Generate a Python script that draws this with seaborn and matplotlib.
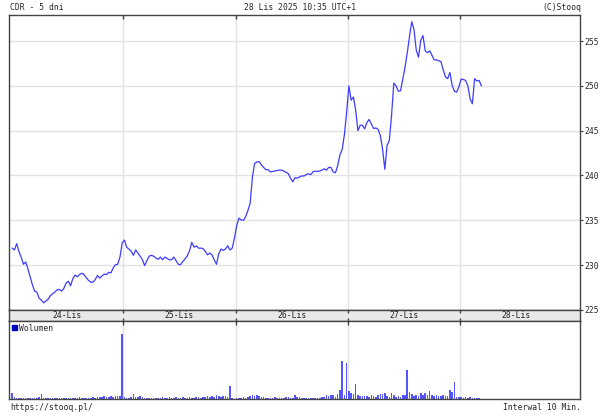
import numpy as np
import pandas as pd
import seaborn as sns
import matplotlib.pyplot as plt
from matplotlib.patches import Patch

sns.set_style("white")
plt.rcParams["font.family"] = ["DejaVu Sans Mono"]

days = ["24-Lis", "25-Lis", "26-Lis", "27-Lis", "28-Lis"]
slots_per_day = 50  # 10-minute bars per session

# price (PLN), one value per 10-min bar
price_24 = [231.9, 231.7, 232.4, 231.5, 230.9, 230.1, 230.35, 229.6, 228.7, 227.8,
            227.1, 227.0, 226.3, 226.1, 225.8, 226.0, 226.2, 226.6, 226.8, 227.0,
            227.25, 227.3, 227.1, 227.4, 228.0, 228.2, 227.7, 228.5, 228.9, 228.7,
            228.95, 229.1, 228.95, 228.6, 228.3, 228.1, 228.1, 228.4, 228.85, 228.55,
            228.8, 229.0, 228.95, 229.2, 229.15, 229.7, 230.05, 230.1, 230.9, 232.5]
price_25 = [232.8, 232.0, 231.8, 231.55, 231.1, 231.7, 231.35, 231.0, 230.6, 229.95,
            230.5, 231.0, 231.1, 231.0, 230.8, 230.65, 230.9, 230.6, 230.9, 230.75,
            230.6, 230.6, 230.9, 230.5, 230.1, 230.05, 230.4, 230.7, 231.05, 231.6,
            232.55, 232.0, 232.15, 231.9, 231.9, 231.85, 231.55, 231.15, 231.35, 231.15,
            230.6, 230.1, 231.25, 231.8, 231.65, 231.8, 232.15, 231.7, 231.9, 233.0]
price_26 = [234.4, 235.25, 235.05, 235.0, 235.4, 236.1, 236.9, 239.8, 241.35, 241.5,
            241.55, 241.2, 240.9, 240.65, 240.65, 240.4, 240.45, 240.5, 240.55, 240.6,
            240.6, 240.5, 240.35, 240.2, 239.7, 239.3, 239.75, 239.7, 239.85, 239.95,
            239.95, 240.1, 240.2, 240.1, 240.4, 240.5, 240.45, 240.5, 240.6, 240.75,
            240.6, 240.9, 240.9, 240.4, 240.3, 241.1, 242.3, 242.9, 244.55, 247.1]
price_27 = [250.0, 248.4, 248.75, 247.3, 245.0, 245.6, 245.6, 245.2, 245.9, 246.25,
            245.75, 245.25, 245.3, 245.15, 244.45, 242.95, 240.7, 243.35, 243.9, 246.7,
            250.3, 250.0, 249.4, 249.45, 250.75, 252.05, 253.7, 255.5, 257.15, 256.3,
            254.0, 253.2, 255.05, 255.6, 253.9, 253.7, 253.9, 253.4, 252.9, 252.9,
            252.8, 252.7, 251.8, 251.0, 250.8, 251.5, 250.05, 249.4, 249.3, 249.9]
price_28 = [250.75, 250.7, 250.6, 250.0, 248.55, 248.0, 250.8, 250.55, 250.6, 250.0]

# volume (thousand shares)
vol_24 = [6.7, 2.0, 1.5, 1.3, 1.5, 1.2, 1.5, 1.3, 1.8, 1.5, 1.3, 1.5, 2.0, 5.0, 1.8,
          1.3, 1.0, 1.5, 1.8, 1.3, 1.5, 1.2, 1.0, 1.5, 1.3, 1.8, 1.5, 1.3, 1.2, 1.5,
          2.0, 1.8, 1.3, 1.5, 1.8, 1.5, 2.0, 1.8, 2.2, 2.0, 2.5, 3.0, 2.5, 2.0, 3.2,
          2.8, 3.0, 3.5, 3.2, 65.0]
vol_25 = [2.0, 1.5, 1.5, 2.0, 5.0, 2.0, 2.5, 3.2, 2.0, 1.5, 1.3, 1.8, 1.5, 1.3, 1.5,
          1.8, 1.3, 2.0, 1.5, 1.8, 2.3, 1.5, 1.8, 2.0, 1.5, 1.3, 2.3, 1.8, 1.5, 2.0,
          1.3, 1.8, 2.5, 2.0, 1.5, 2.8, 2.3, 3.0, 2.5, 3.5, 2.8, 4.0, 3.0, 2.5, 3.5,
          3.0, 2.2, 13.3, 1.5, 0.0]
vol_26 = [1.5, 1.3, 1.5, 2.0, 1.5, 2.5, 3.5, 4.0, 3.5, 4.0, 3.0, 2.0, 2.5, 1.8, 1.5,
          1.3, 1.5, 2.0, 1.5, 1.3, 1.8, 1.5, 2.0, 2.5, 1.5, 1.3, 4.0, 2.5, 2.0, 1.5,
          1.8, 1.3, 1.5, 1.2, 1.5, 1.3, 1.8, 1.5, 2.0, 2.5, 4.5, 3.0, 4.5, 4.0, 2.0,
          5.0, 9.3, 38.3, 4.0, 36.7]
vol_27 = [8.3, 6.7, 5.3, 15.3, 4.3, 3.0, 3.0, 3.3, 3.0, 2.3, 4.0, 3.0, 2.0, 4.7, 5.0,
          5.3, 6.0, 3.3, 2.7, 6.3, 4.0, 2.7, 3.0, 2.7, 4.3, 4.5, 29.3, 7.3, 5.0, 3.0,
          4.0, 3.7, 6.0, 4.0, 6.0, 4.0, 8.7, 4.0, 3.0, 4.7, 3.3, 3.3, 4.0, 3.7, 3.7,
          9.0, 7.7, 17.3, 2.5, 2.0]
vol_28 = [2.0, 1.3, 2.7, 1.7, 2.0, 1.3, 1.0, 1.3, 1.0, 0.8]

prices = [price_24, price_25, price_26, price_27, price_28]
vols = [vol_24, vol_25, vol_26, vol_27, vol_28]

rows = []
for d, (p, v) in enumerate(zip(prices, vols)):
    for i in range(len(p)):
        rows.append({"pos": d * slots_per_day + i, "price": p[i], "vol": v[i]})
df = pd.DataFrame(rows)

bounds = [d * slots_per_day - 0.5 for d in range(1, 5)]
xlim = (-1.29, 252.96)
fs = 5.8
edge = "#444444"
grid = "#e2e2e2"

fig = plt.figure(figsize=(6.05, 4.18), dpi=100)
ax = fig.add_axes([0.0154, 0.2584, 0.9433, 0.7057])
band = fig.add_axes([0.0154, 0.2328, 0.9433, 0.0256])
axv = fig.add_axes([0.0154, 0.0443, 0.9433, 0.1885])

# price line
sns.lineplot(data=df, x="pos", y="price", ax=ax, color="#3c3cff", linewidth=0.9)
ax.set_xlim(xlim)
ax.set_ylim(225, 257.9)
ax.set_yticks(range(225, 256, 5))
ax.yaxis.tick_right()
ax.set_xticks(bounds)
ax.xaxis.tick_top()
ax.set_xticklabels([])
ax.tick_params(axis="x", direction="in", length=3, width=1, color=edge)
ax.tick_params(axis="y", direction="out", length=2, width=0.8, color=edge,
               labelsize=fs, pad=1)
ax.grid(True, color=grid, linewidth=1)
ax.set_xlabel("")
ax.set_ylabel("")

# day label band
band.set_xlim(xlim)
band.set_ylim(0, 1)
band.set_facecolor("#e8e8e8")
band.set_xticks(bounds)
band.set_xticklabels([])
band.set_yticks([])
band.tick_params(axis="x", direction="in", length=2, width=1, color=edge,
                 top=True, bottom=True)
for d, lab in enumerate(days):
    band.text(d * slots_per_day + 24.5, 0.45, lab, ha="center", va="center",
              fontsize=fs, color="#222222")

# volume bars
sns.barplot(data=df, x="pos", y="vol", ax=axv, native_scale=True, color="#5555ff",
            width=0.7, errorbar=None, saturation=1, linewidth=0)
axv.set_xlim(xlim)
axv.set_ylim(0, max(df["vol"]) * 1.21)
axv.set_xticks(bounds)
axv.set_xticklabels([])
axv.set_yticks([])
axv.tick_params(axis="x", direction="in", length=3, width=1, color=edge,
                top=True, bottom=False)
axv.grid(True, axis="x", color=grid, linewidth=1)
axv.set_axisbelow(True)
axv.set_xlabel("")
axv.set_ylabel("")
axv.legend(handles=[Patch(color="#0000c0")], labels=["Wolumen"], loc="upper left",
           frameon=False, fontsize=fs, handlelength=0.6, handleheight=0.6,
           handletextpad=0.3, borderaxespad=0.15, borderpad=0.2)

for a in (ax, band, axv):
    for s in a.spines.values():
        s.set_color(edge)
        s.set_linewidth(1)

fig.text(10 / 605, 1 - 8 / 418, "CDR - 5 dni", ha="left", va="center", fontsize=fs)
fig.text(300 / 605, 1 - 8 / 418, "28 Lis 2025 10:35 UTC+1", ha="center", va="center",
         fontsize=fs)
fig.text(581 / 605, 1 - 8 / 418, "(C)Stooq", ha="right", va="center", fontsize=fs)
fig.text(10 / 605, 1 - 407 / 418, "https://stooq.pl/", ha="left", va="center",
         fontsize=fs)
fig.text(581 / 605, 1 - 407 / 418, "Interwal 10 Min.", ha="right", va="center",
         fontsize=fs)

fig.savefig("out.png", dpi=100)
